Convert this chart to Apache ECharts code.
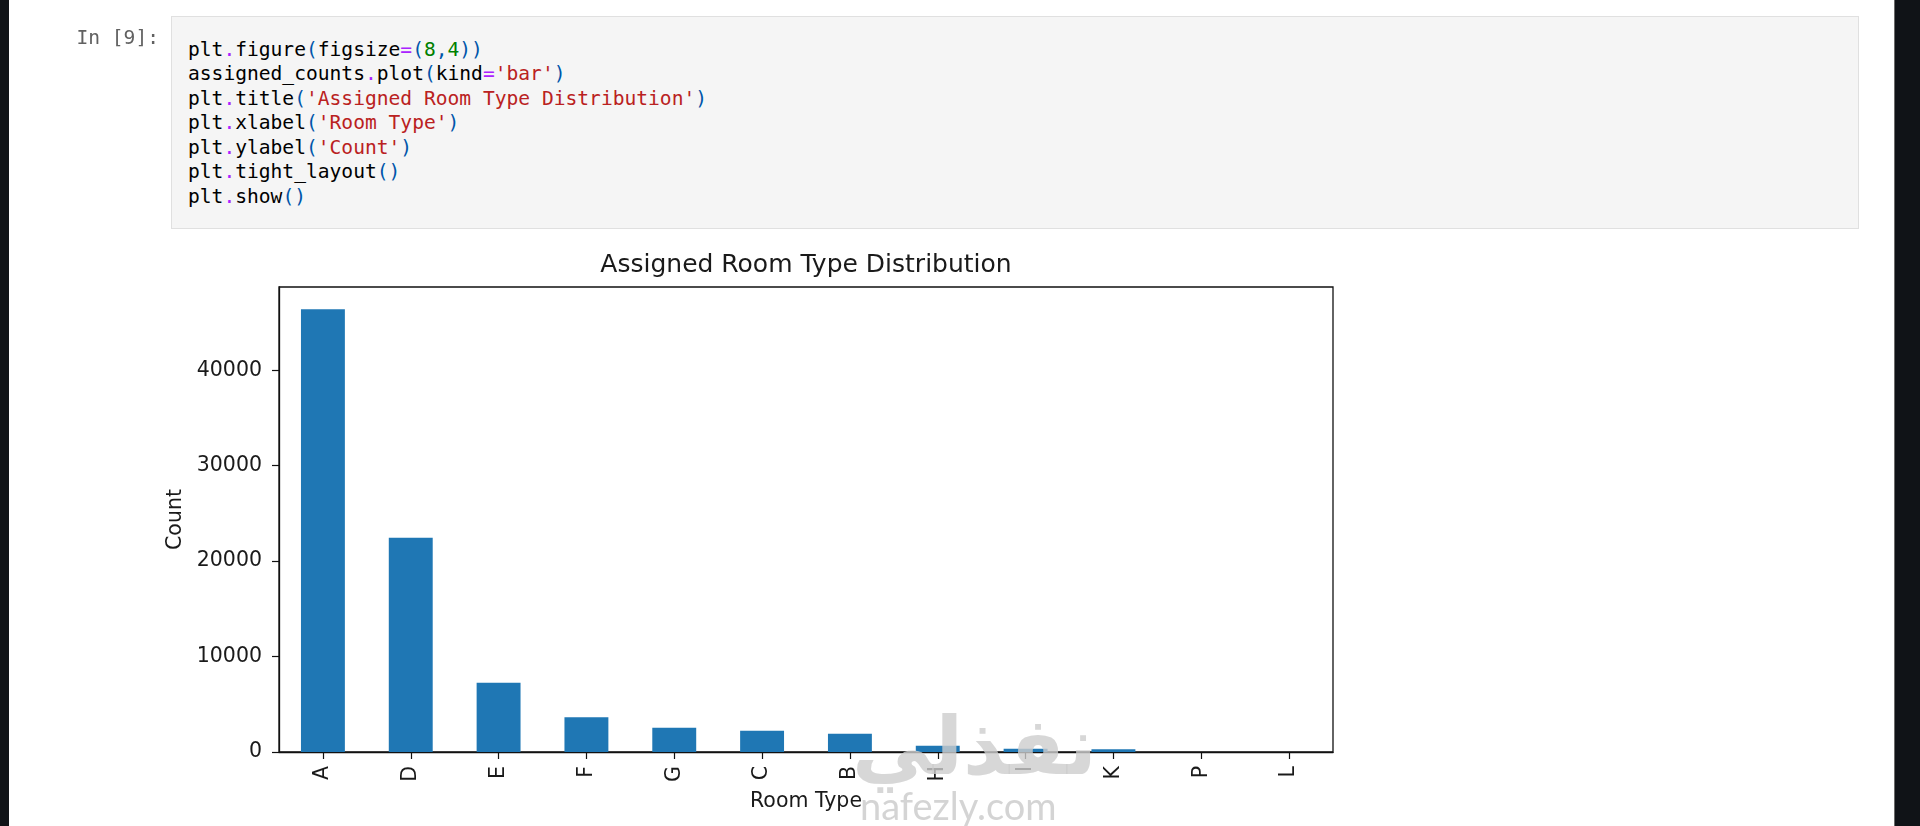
<!DOCTYPE html>
<html>
<head>
<meta charset="utf-8">
<script src="https://cdn.jsdelivr.net/npm/echarts@6/dist/echarts.min.js"></script>
<style>
  html, body { margin:0; padding:0; width:1920px; height:826px; background:#ffffff; overflow:hidden; }
  #chart { position:absolute; left:0; top:0; width:1920px; height:826px; }
  .strip-left { position:absolute; left:0; top:0; width:9px; height:826px; background:#111418; }
  .strip-right { position:absolute; left:1894px; top:0; width:26px; height:826px; background:#101317; border-left:1px solid #6a6a6a; box-sizing:border-box; }
  .cell { position:absolute; left:171px; top:16px; width:1688px; height:213px; background:#f5f5f5; border:1px solid #e0e0e0; box-sizing:border-box; }
  .prompt { position:absolute; left:60px; width:99px; top:26px; text-align:right; font-family:"DejaVu Sans Mono", monospace; font-size:19.6px; line-height:24.45px; color:#616161; white-space:pre; }
  .code { position:absolute; left:188px; top:37.8px; font-family:"DejaVu Sans Mono", monospace; font-size:19.6px; line-height:24.45px; color:#000; white-space:pre; }
  .op { color:#aa22ff; } .pu { color:#0055aa; } .nu { color:#008000; } .st { color:#ba2121; }
  .wm-ar { position:absolute; left:852px; top:700px; font-family:"DejaVu Sans", sans-serif; font-weight:bold; font-size:80px; color:rgba(205,205,205,0.8); direction:rtl; pointer-events:none; z-index:5; }
  .wm-en { position:absolute; left:860px; top:782px; font-family:"Lato","DejaVu Sans", sans-serif; font-size:38px; color:rgba(205,205,205,0.85); pointer-events:none; z-index:5; }
</style>
</head>
<body>
<div id="chart"></div>
<div class="strip-left"></div>
<div class="strip-right"></div>
<div class="cell"></div>
<div class="prompt">In [9]:</div>
<div class="code">plt<span class="op">.</span>figure<span class="pu">(</span>figsize<span class="op">=</span><span class="pu">(</span><span class="nu">8</span><span class="pu">,</span><span class="nu">4</span><span class="pu">))</span>
assigned_counts<span class="op">.</span>plot<span class="pu">(</span>kind<span class="op">=</span><span class="st">'bar'</span><span class="pu">)</span>
plt<span class="op">.</span>title<span class="pu">(</span><span class="st">'Assigned Room Type Distribution'</span><span class="pu">)</span>
plt<span class="op">.</span>xlabel<span class="pu">(</span><span class="st">'Room Type'</span><span class="pu">)</span>
plt<span class="op">.</span>ylabel<span class="pu">(</span><span class="st">'Count'</span><span class="pu">)</span>
plt<span class="op">.</span>tight_layout<span class="pu">()</span>
plt<span class="op">.</span>show<span class="pu">()</span></div>
<div class="wm-ar">نفذلي</div>
<div class="wm-en">nafezly.com</div>
<script>
const categories = ['A', 'D', 'E', 'F', 'G', 'C', 'B', 'H', 'I', 'K', 'P', 'L'];
const counts = [46400, 22450, 7250, 3650, 2550, 2230, 1900, 650, 340, 300, 10, 1];
const yTicks = [0, 10000, 20000, 30000, 40000];
const titleText = 'Assigned Room Type Distribution';
const xName = 'Room Type';
const yName = 'Count';

const FONT = '"DejaVu Sans", sans-serif';
const TXT = '#1a1a1a';
const chart = echarts.init(document.getElementById('chart'), null, { renderer: 'canvas' });
const yMax = Math.max.apply(null, counts) * 1.05;

chart.setOption({
  animation: false,
  backgroundColor: 'transparent',
  title: {
    text: titleText,
    left: 806,
    top: 253,
    textAlign: 'center',
    padding: 0,
    textStyle: { fontFamily: FONT, fontSize: 25, fontWeight: 'normal', color: TXT }
  },
  grid: {
    left: 279, top: 287, width: 1054, height: 465,
    show: true, borderColor: '#111', borderWidth: 1.3, backgroundColor: 'transparent',
    containLabel: false
  },
  xAxis: {
    type: 'category',
    data: categories,
    boundaryGap: true,
    name: xName,
    nameLocation: 'middle',
    nameGap: 39,
    nameTextStyle: { fontFamily: FONT, fontSize: 20.5, color: TXT },
    axisLine: { show: true, lineStyle: { color: '#111', width: 1.3 } },
    axisTick: { show: true, alignWithLabel: true, interval: 0, length: 7, lineStyle: { color: '#111', width: 1.2 } },
    axisLabel: { interval: 0, rotate: 90, margin: 14, fontFamily: FONT, fontSize: 20.5, color: TXT },
    splitLine: { show: false }
  },
  yAxis: {
    type: 'value',
    min: 0,
    max: yMax,
    name: yName,
    nameLocation: 'middle',
    nameGap: 74,
    nameTextStyle: { fontFamily: FONT, fontSize: 20.5, color: TXT },
    axisLine: { show: true, lineStyle: { color: '#111', width: 1.3 } },
    axisTick: { show: true, length: 7, customValues: yTicks, lineStyle: { color: '#111', width: 1.2 } },
    axisLabel: { customValues: yTicks, margin: 17, fontFamily: FONT, fontSize: 20.5, color: TXT,
                 formatter: function (v) { return String(Math.round(v)); } },
    splitLine: { show: false }
  },
  series: [{
    type: 'bar',
    data: counts,
    barWidth: '50%',
    itemStyle: { color: '#1f77b4' }
  }]
});
</script>
</body>
</html>
